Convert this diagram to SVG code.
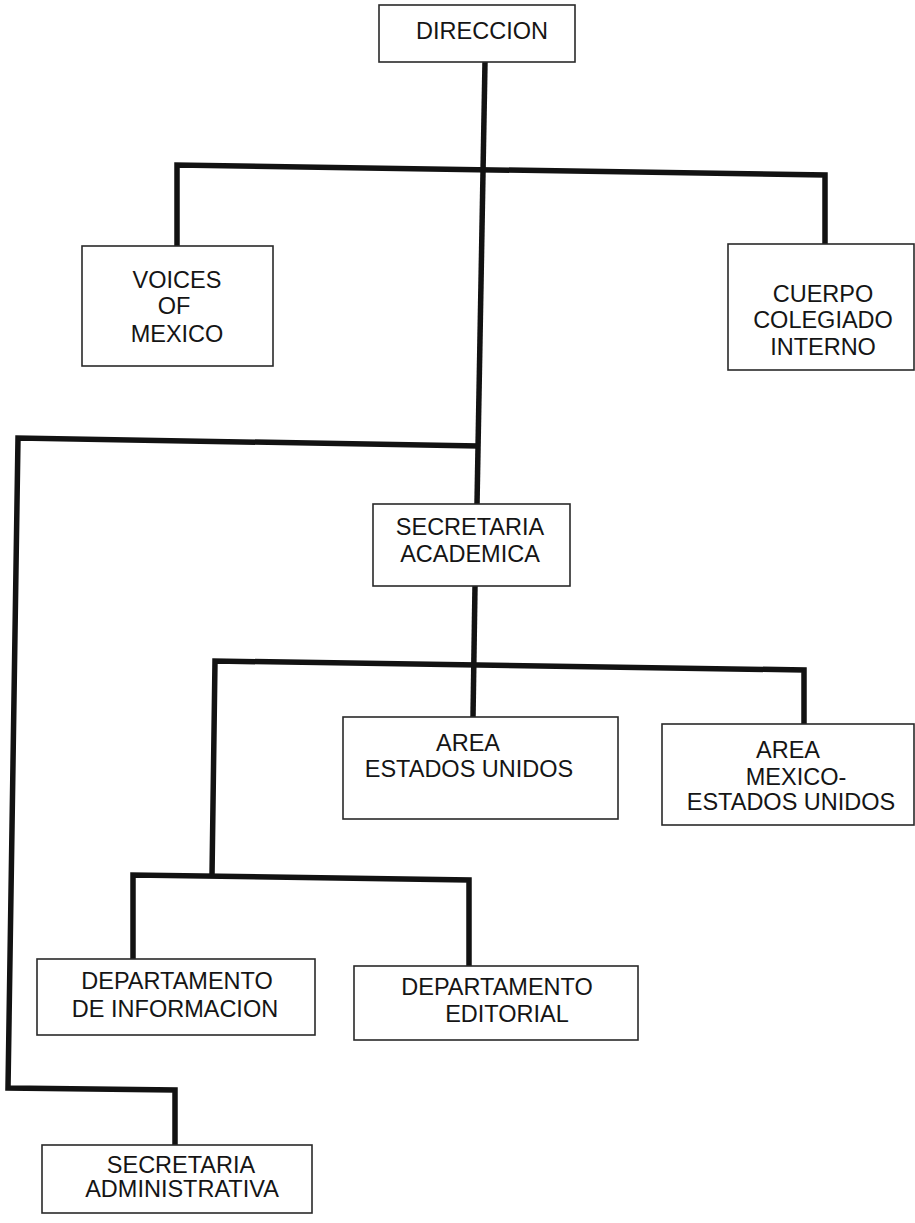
<svg xmlns="http://www.w3.org/2000/svg" width="915" height="1223" viewBox="0 0 915 1223">
<style>
.bg{fill:#ffffff}
.box{fill:#ffffff;stroke:#2a2a2a;stroke-width:1.6}
.lbl{font-family:"Liberation Sans",Arial,sans-serif;font-size:23.5px;fill:#151515;text-anchor:middle}
.con{fill:none;stroke:#121212;stroke-width:5.5;stroke-linejoin:miter;stroke-linecap:butt}
</style>
<rect class="bg" x="0" y="0" width="915" height="1223"/>
<g id="connectors">
  <path class="con" d="M485,62 L477,504"/>
  <path class="con" d="M177,246 L177,165 L825,175 L825,250"/>
  <path class="con" d="M479,446 L18,438 L8,1088 L175,1090 L175,1145"/>
  <path class="con" d="M475,586 L473,717"/>
  <path class="con" d="M212,876 L215,661 L804,670 L804,724"/>
  <path class="con" d="M133,959 L133,875 L469,880 L469,966"/>
</g>
<g id="direccion">
  <rect class="box" x="379" y="5" width="196" height="57"/>
  <text class="lbl" x="482" y="39">DIRECCION</text>
</g>
<g id="voices">
  <rect class="box" x="82" y="246" width="191" height="120"/>
  <text class="lbl" x="177" y="288">VOICES</text>
  <text class="lbl" x="174" y="314">OF</text>
  <text class="lbl" x="177" y="342">MEXICO</text>
</g>
<g id="cuerpo">
  <rect class="box" x="728" y="244" width="186" height="126"/>
  <text class="lbl" x="823" y="302">CUERPO</text>
  <text class="lbl" x="823" y="328">COLEGIADO</text>
  <text class="lbl" x="823" y="355">INTERNO</text>
</g>
<g id="sec-academica">
  <rect class="box" x="373" y="504" width="197" height="82"/>
  <text class="lbl" x="470" y="535">SECRETARIA</text>
  <text class="lbl" x="470" y="562">ACADEMICA</text>
</g>
<g id="area-eu">
  <rect class="box" x="343" y="717" width="275" height="102"/>
  <text class="lbl" x="468" y="751">AREA</text>
  <text class="lbl" x="469" y="777">ESTADOS UNIDOS</text>
</g>
<g id="area-mex-eu">
  <rect class="box" x="662" y="724" width="252" height="101"/>
  <text class="lbl" x="788" y="758">AREA</text>
  <text class="lbl" x="796" y="785">MEXICO-</text>
  <text class="lbl" x="791" y="810">ESTADOS UNIDOS</text>
</g>
<g id="dep-info">
  <rect class="box" x="37" y="959" width="278" height="76"/>
  <text class="lbl" x="177" y="989">DEPARTAMENTO</text>
  <text class="lbl" x="175" y="1017">DE INFORMACION</text>
</g>
<g id="dep-editorial">
  <rect class="box" x="354" y="966" width="284" height="74"/>
  <text class="lbl" x="497" y="995">DEPARTAMENTO</text>
  <text class="lbl" x="507" y="1022">EDITORIAL</text>
</g>
<g id="sec-administrativa">
  <rect class="box" x="42" y="1145" width="270" height="68"/>
  <text class="lbl" x="181" y="1173">SECRETARIA</text>
  <text class="lbl" x="182" y="1197">ADMINISTRATIVA</text>
</g>
</svg>
